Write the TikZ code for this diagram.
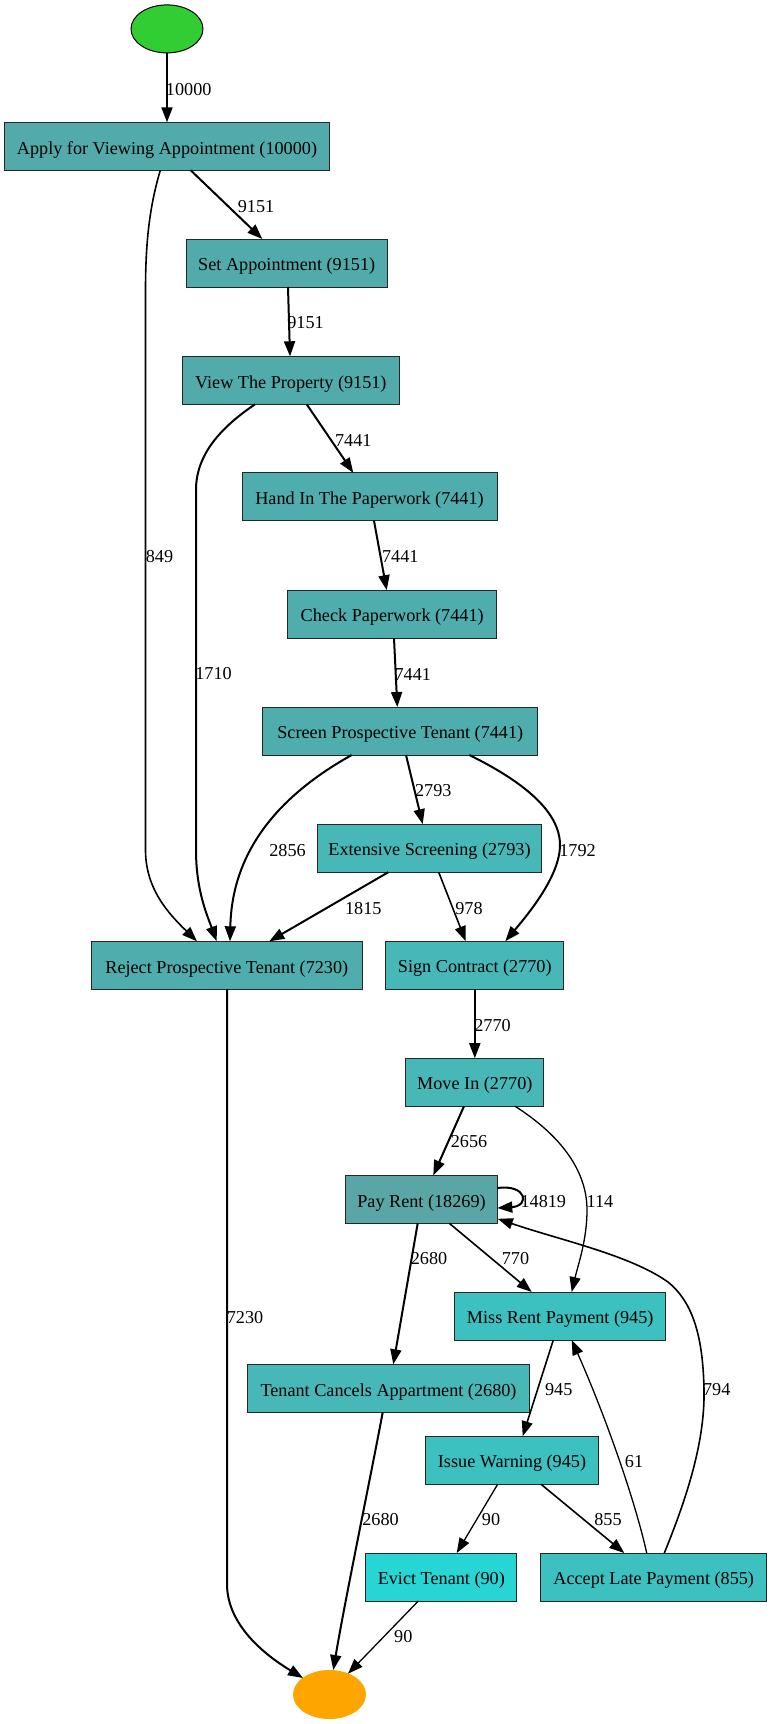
\documentclass[tikz,border=0pt]{standalone}
\usepackage{fontspec}
\setmainfont{Liberation Serif}
\usetikzlibrary{arrows.meta,calc,shapes.geometric}

% fill colours, darker for busier activities
\definecolor{f10000}{HTML}{53AAAA}
\definecolor{f9151}{HTML}{52ABAB}
\definecolor{f7441}{HTML}{50ADAD}
\definecolor{f2770}{HTML}{48B7B7}
\definecolor{f945}{HTML}{3DC0C0}
\definecolor{f18269}{HTML}{5AA6A6}
\definecolor{f90}{HTML}{27D5D5}
\definecolor{startgreen}{HTML}{32CD32}
\definecolor{endorange}{HTML}{FFA500}

\begin{document}
\begin{tikzpicture}[x=1pt,y=-1pt,
  every node/.style={font=\fontsize{18.2}{21}\selectfont},
  act/.style={rectangle, draw=black!85, line width=1pt, minimum height=48pt,
    inner sep=0pt, outer sep=0pt, text height=15.4pt, text depth=0pt},
  terminal/.style={ellipse, minimum width=72pt, minimum height=48pt,
    inner sep=0pt, outer sep=0pt, line width=1pt},
  flow/.style={-{Triangle[length=15pt,width=11pt]}, line width=2pt, black},
  flowmid/.style={flow, line width=1.6pt},
  flowthin/.style={flow, line width=1.3pt},
  cnt/.style={inner sep=0pt, outer sep=0pt}
]
\useasboundingbox (0,0) rectangle (772,1724);

% start and end events
\node[terminal, draw=black, fill=startgreen] (start) at (167,28.9) {};
\node[terminal, draw=endorange, fill=endorange] (endn) at (329.5,1694.5) {};

% activities
\node[act, fill=f10000, minimum width=324.3pt] (apply) at (167,146.3) {Apply for Viewing Appointment (10000)};
\node[act, fill=f9151, minimum width=201.3pt] (setapp) at (286.7,263) {Set Appointment (9151)};
\node[act, fill=f9151, minimum width=217pt] (view) at (290.8,380.3) {View The Property (9151)};
\node[act, fill=f7441, minimum width=255pt] (hand) at (369.5,496.8) {Hand In The Paperwork (7441)};
\node[act, fill=f7441, minimum width=209pt] (check) at (392.2,614.2) {Check Paperwork (7441)};
\node[act, fill=f7441, minimum width=275.3pt] (screen) at (400.3,731) {Screen Prospective Tenant (7441)};
\node[act, fill=f2770, minimum width=223.6pt] (ext) at (429.5,848.2) {Extensive Screening (2793)};
\node[act, fill=f7441, minimum width=271pt] (reject) at (226.8,965.3) {Reject Prospective Tenant (7230)};
\node[act, fill=f2770, minimum width=177.7pt] (sign) at (474.8,965.2) {Sign Contract (2770)};
\node[act, fill=f2770, minimum width=137.7pt] (movein) at (474.8,1082.2) {Move In (2770)};
\node[act, fill=f18269, minimum width=151.6pt] (pay) at (421.5,1199.3) {Pay Rent (18269)};
\node[act, fill=f945, minimum width=211pt] (miss) at (560.2,1316) {Miss Rent Payment (945)};
\node[act, fill=f2770, minimum width=282pt] (cancel) at (388.5,1388.3) {Tenant Cancels Appartment (2680)};
\node[act, fill=f945, minimum width=172.6pt] (issue) at (512,1460.2) {Issue Warning (945)};
\node[act, fill=f90, minimum width=150.7pt] (evict) at (441.3,1577) {Evict Tenant (90)};
\node[act, fill=f945, minimum width=226pt] (accept) at (653.7,1577) {Accept Late Payment (855)};

% connectors
\draw[flow] (start.south) -- (apply.north);
\draw[flow] ($(apply.south)+(23.7,0)$) -- ($(setapp.north)+(-24.4,0)$);
\draw[flowmid] ($(apply.south)+(-6.7,0)$) .. controls (150,205) and (145.5,240) .. (145.5,290)
  -- (145.5,850) .. controls (145.5,890) and (170,915) .. ($(reject.north)+(-29.8,0)$);
\draw[flow] ($(setapp.south)+(1.3,0)$) -- ($(view.north)+(-0.8,0)$);
\draw[flow] ($(view.south)+(15.9,0)$) -- ($(hand.north)+(-16.2,0)$);
\draw[flow] ($(view.south)+(-35.8,0)$) .. controls (220,428) and (196,455) .. (196,490)
  -- (196,850) .. controls (196,890) and (207,915) .. ($(reject.north)+(-10.1,0)$);
\draw[flow] ($(hand.south)+(4.5,0)$) -- ($(check.north)+(-5.5,0)$);
\draw[flow] ($(check.south)+(1.8,0)$) -- ($(screen.north)+(-3,0)$);
\draw[flow] ($(screen.south)+(5.7,0)$) -- ($(ext.north)+(-6.8,0)$);
\draw[flow] ($(screen.south)+(-48.6,0)$) .. controls (280,795) and (232,850) .. ($(reject.north)+(3.2,0)$);
\draw[flow] ($(screen.south)+(69,0)$) .. controls (520,780) and (560,810) .. (560,845)
  .. controls (560,875) and (530,912) .. ($(sign.north)+(30.5,0)$);
\draw[flow] ($(ext.south)+(-41.2,0)$) -- ($(reject.north)+(42.5,0)$);
\draw[flowmid] ($(ext.south)+(9.2,0)$) -- ($(sign.north)+(-9.1,0)$);
\draw[flow] ($(reject.south)+(0.2,0)$) -- (227,1584) .. controls (227,1625) and (265,1655)
  .. ($(endn.center)+(-26.5,-16.5)$);
\draw[flow] (sign.south) -- (movein.north);
\draw[flow] ($(movein.south)+(-10.8,0)$) -- ($(pay.north)+(11.8,0)$);
\draw[flowthin] ($(movein.south)+(40.2,0)$) .. controls (560,1135) and (587,1170) .. (587,1210)
  .. controls (587,1240) and (578,1265) .. ($(miss.north)+(11.5,0)$);
\draw[flow] ($(pay.east)+(0,-11.3)$) .. controls (527,1184) and (530,1206) .. ($(pay.east)+(0,8.7)$);
\draw[flowmid] ($(accept.north)+(10.6,0)$) .. controls (688,1495) and (705,1440) .. (704,1390)
  .. controls (703,1330) and (690,1300) .. (668,1282)
  .. controls (630,1255) and (560,1240) .. ($(pay.east)+(0.5,19.5)$);
\draw[flow] ($(pay.south)+(-3.8,0)$) -- ($(cancel.north)+(4.8,0)$);
\draw[flowmid] ($(pay.south)+(27.8,0)$) -- ($(miss.north)+(-28.5,0)$);
\draw[flowmid] ($(miss.south)+(-6.9,0)$) -- ($(issue.north)+(10.7,0)$);
\draw[flowthin] ($(accept.north)+(-7,0)$) .. controls (635,1500) and (605,1415) .. ($(miss.south)+(11.5,0)$);
\draw[flowthin] ($(issue.south)+(-14.3,0)$) -- ($(evict.north)+(15.4,0)$);
\draw[flowmid] ($(issue.south)+(29,0)$) -- ($(accept.north)+(-29.4,0)$);
\draw[flow] ($(cancel.south)+(-5.8,0)$) .. controls (372,1470) and (345,1600) .. ($(endn.center)+(3.8,-24.5)$);
\draw[flowthin] ($(evict.south)+(-23,0)$) -- ($(endn.center)+(18.5,-20.8)$);

% counts on the connectors
\node[cnt] (n1) at (188.7,89.3) {10000};
\node[cnt] (n2) at (256,207) {9151};
\node[cnt] (n3) at (159.5,556.7) {849};
\node[cnt] (n4) at (305.5,322.7) {9151};
\node[cnt] (n5) at (353.3,440) {7441};
\node[cnt] (n6) at (213.5,674) {1710};
\node[cnt] (n7) at (400.3,556.7) {7441};
\node[cnt] (n8) at (412.8,674) {7441};
\node[cnt] (n9) at (433.3,790.7) {2793};
\node[cnt] (n10) at (287.5,850.7) {2856};
\node[cnt] (n11) at (577.5,850.7) {1792};
\node[cnt] (n12) at (363.3,908.3) {1815};
\node[cnt] (n13) at (469,908.3) {978};
\node[cnt] (n14) at (492.5,1025.3) {2770};
\node[cnt] (n15) at (245,1318) {7230};
\node[cnt] (n16) at (469,1142) {2656};
\node[cnt] (n17) at (600,1201.5) {114};
\node[cnt] (n18) at (543.3,1201.5) {14819};
\node[cnt] (n19) at (429,1258.5) {2680};
\node[cnt] (n20) at (515.5,1258.5) {770};
\node[cnt] (n21) at (558.7,1390) {945};
\node[cnt] (n22) at (716.7,1390) {794};
\node[cnt] (n23) at (634,1461.7) {61};
\node[cnt] (n24) at (491,1520) {90};
\node[cnt] (n25) at (608,1520) {855};
\node[cnt] (n26) at (380.5,1520) {2680};
\node[cnt] (n27) at (403.3,1636.7) {90};
\end{tikzpicture}
\end{document}
